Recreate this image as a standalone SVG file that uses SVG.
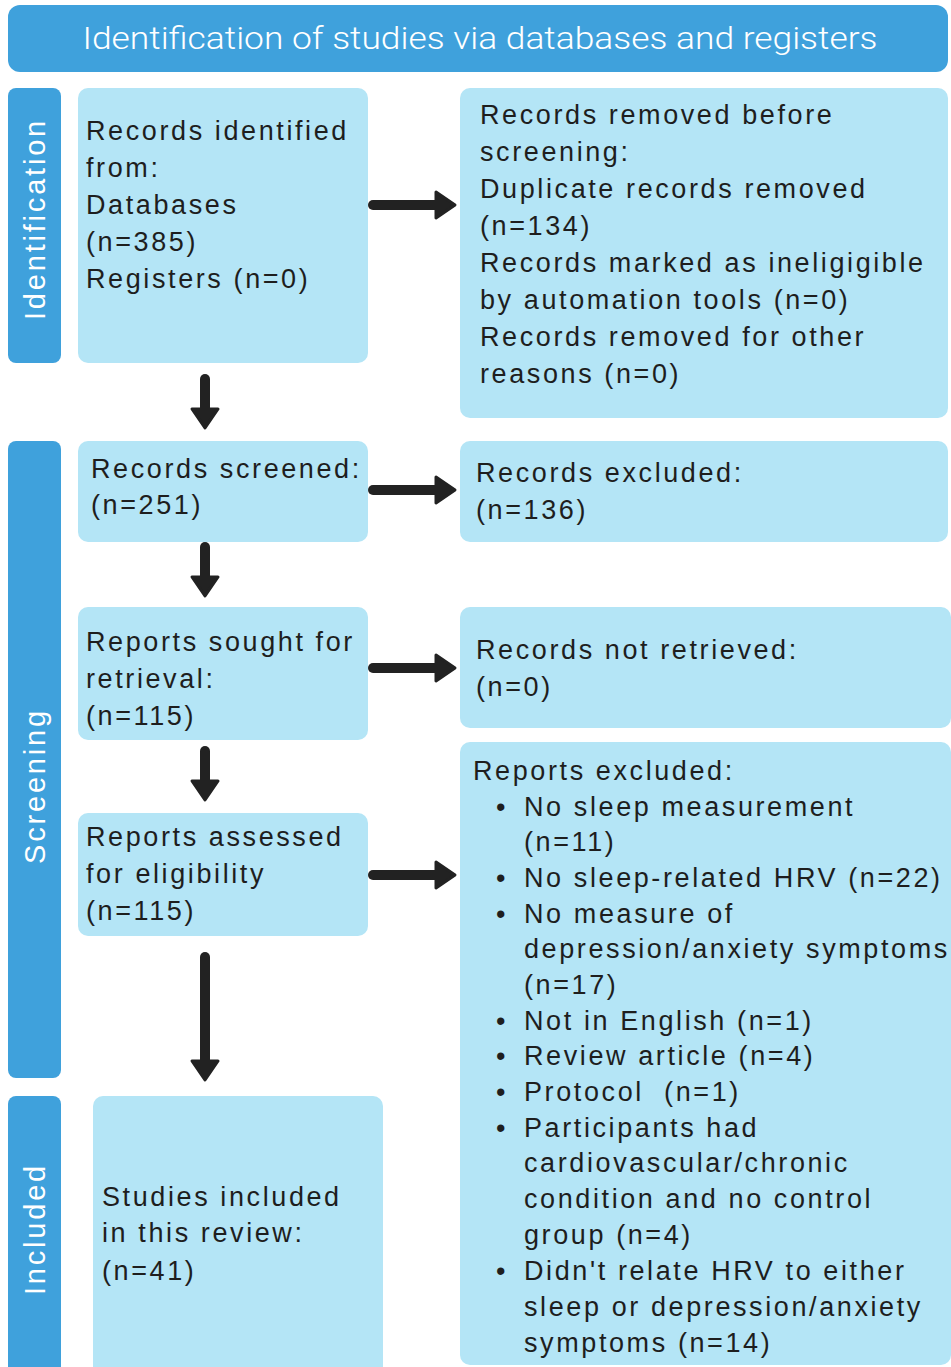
<svg xmlns="http://www.w3.org/2000/svg" width="951" height="1367" viewBox="0 0 951 1367">
  <style>
    .band { fill: #3fa1dc; }
    .box { fill: #b4e5f6; }
    .band-label { font-family: "Liberation Sans", Arial, sans-serif; font-size: 29px; letter-spacing: 2.8px; fill: #ffffff; text-anchor: middle; dominant-baseline: central; }
    .title { font-family: Roboto, "Liberation Sans", sans-serif; font-weight: 300; font-size: 31px; fill: #ffffff; text-anchor: middle; }
    .txt { font-family: "Liberation Sans", Arial, sans-serif; font-size: 27px; letter-spacing: 2.6px; fill: #1e1e1e; }
    .arrow { fill: none; stroke: #222222; stroke-width: 10; stroke-linecap: round; }
  </style>
  <defs>
    <marker id="head" markerUnits="userSpaceOnUse" viewBox="0 0 24 32" markerWidth="24" markerHeight="32" refX="2" refY="16" orient="auto">
      <path d="M2,3 L21,16 L2,29 Z" fill="#222222" stroke="#222222" stroke-width="3" stroke-linejoin="round"/>
    </marker>
  </defs>

  <rect width="951" height="1367" fill="#ffffff"/>

  <!-- header band -->
  <g id="header">
    <rect class="band" x="8" y="5" width="940" height="67" rx="12"/>
    <text class="title" x="480" y="49" textLength="795" lengthAdjust="spacingAndGlyphs">Identification of studies via databases and registers</text>
  </g>

  <!-- phase side bands -->
  <g id="phase-identification">
    <rect class="band" x="8" y="88" width="53" height="275" rx="8"/>
    <text class="band-label" transform="translate(35,219) rotate(-90)">Identification</text>
  </g>
  <g id="phase-screening">
    <rect class="band" x="8" y="441" width="53" height="637" rx="8"/>
    <text class="band-label" transform="translate(35,786) rotate(-90)">Screening</text>
  </g>
  <g id="phase-included">
    <rect class="band" x="8" y="1096" width="53" height="285" rx="8"/>
    <text class="band-label" transform="translate(35,1229) rotate(-90)">Included</text>
  </g>

  <!-- flow boxes -->
  <g id="records-identified">
    <rect class="box" x="78" y="88" width="290" height="275" rx="10"/>
    <text class="txt">
      <tspan x="86" y="140">Records identified</tspan>
      <tspan x="86" y="177">from:</tspan>
      <tspan x="86" y="214">Databases</tspan>
      <tspan x="86" y="251">(n=385)</tspan>
      <tspan x="86" y="288">Registers (n=0)</tspan>
    </text>
  </g>

  <g id="records-removed">
    <rect class="box" x="460" y="88" width="488" height="330" rx="10"/>
    <text class="txt">
      <tspan x="480" y="124">Records removed before</tspan>
      <tspan x="480" y="161">screening:</tspan>
      <tspan x="480" y="198">Duplicate records removed</tspan>
      <tspan x="480" y="235">(n=134)</tspan>
      <tspan x="480" y="272">Records marked as ineligigible</tspan>
      <tspan x="480" y="309">by automation tools (n=0)</tspan>
      <tspan x="480" y="346">Records removed for other</tspan>
      <tspan x="480" y="383">reasons (n=0)</tspan>
    </text>
  </g>

  <g id="records-screened">
    <rect class="box" x="78" y="441" width="290" height="101" rx="10"/>
    <text class="txt">
      <tspan x="91" y="478">Records screened:</tspan>
      <tspan x="91" y="514">(n=251)</tspan>
    </text>
  </g>

  <g id="records-excluded">
    <rect class="box" x="460" y="441" width="488" height="101" rx="10"/>
    <text class="txt">
      <tspan x="476" y="482">Records excluded:</tspan>
      <tspan x="476" y="519">(n=136)</tspan>
    </text>
  </g>

  <g id="reports-sought">
    <rect class="box" x="78" y="607" width="290" height="133" rx="10"/>
    <text class="txt">
      <tspan x="86" y="651">Reports sought for</tspan>
      <tspan x="86" y="688">retrieval:</tspan>
      <tspan x="86" y="725">(n=115)</tspan>
    </text>
  </g>

  <g id="records-not-retrieved">
    <rect class="box" x="460" y="607" width="491" height="121" rx="10"/>
    <text class="txt">
      <tspan x="476" y="659">Records not retrieved:</tspan>
      <tspan x="476" y="696">(n=0)</tspan>
    </text>
  </g>

  <g id="reports-assessed">
    <rect class="box" x="78" y="813" width="290" height="123" rx="10"/>
    <text class="txt">
      <tspan x="86" y="846">Reports assessed</tspan>
      <tspan x="86" y="883">for eligibility</tspan>
      <tspan x="86" y="920">(n=115)</tspan>
    </text>
  </g>

  <g id="reports-excluded">
    <rect class="box" x="460" y="742" width="491" height="623" rx="10"/>
    <text class="txt">
      <tspan x="473" y="780">Reports excluded:</tspan>
      <tspan x="496" y="816">•</tspan><tspan x="524" y="816">No sleep measurement</tspan>
      <tspan x="524" y="851">(n=11)</tspan>
      <tspan x="496" y="887">•</tspan><tspan x="524" y="887">No sleep-related HRV (n=22)</tspan>
      <tspan x="496" y="923">•</tspan><tspan x="524" y="923">No measure of</tspan>
      <tspan x="524" y="958">depression/anxiety symptoms</tspan>
      <tspan x="524" y="994">(n=17)</tspan>
      <tspan x="496" y="1030">•</tspan><tspan x="524" y="1030">Not in English (n=1)</tspan>
      <tspan x="496" y="1065">•</tspan><tspan x="524" y="1065">Review article (n=4)</tspan>
      <tspan x="496" y="1101">•</tspan><tspan x="524" y="1101">Protocol&#160; (n=1)</tspan>
      <tspan x="496" y="1137">•</tspan><tspan x="524" y="1137">Participants had</tspan>
      <tspan x="524" y="1172">cardiovascular/chronic</tspan>
      <tspan x="524" y="1208">condition and no control</tspan>
      <tspan x="524" y="1244">group (n=4)</tspan>
      <tspan x="496" y="1280">•</tspan><tspan x="524" y="1280">Didn't relate HRV to either</tspan>
      <tspan x="524" y="1316">sleep or depression/anxiety</tspan>
      <tspan x="524" y="1352">symptoms (n=14)</tspan>
    </text>
  </g>

  <g id="studies-included">
    <rect class="box" x="93" y="1096" width="290" height="285" rx="10"/>
    <text class="txt">
      <tspan x="102" y="1206">Studies included</tspan>
      <tspan x="102" y="1242">in this review:</tspan>
      <tspan x="102" y="1280">(n=41)</tspan>
    </text>
  </g>

  <!-- connectors -->
  <g id="connectors">
    <path class="arrow" marker-end="url(#head)" d="M373,205 H436"/>
    <path class="arrow" marker-end="url(#head)" d="M373,490 H436"/>
    <path class="arrow" marker-end="url(#head)" d="M373,668 H436"/>
    <path class="arrow" marker-end="url(#head)" d="M373,875 H436"/>
    <path class="arrow" marker-end="url(#head)" d="M205,379 V409"/>
    <path class="arrow" marker-end="url(#head)" d="M205,547 V577"/>
    <path class="arrow" marker-end="url(#head)" d="M205,751 V781"/>
    <path class="arrow" marker-end="url(#head)" d="M205,957 V1061"/>
  </g>
</svg>
